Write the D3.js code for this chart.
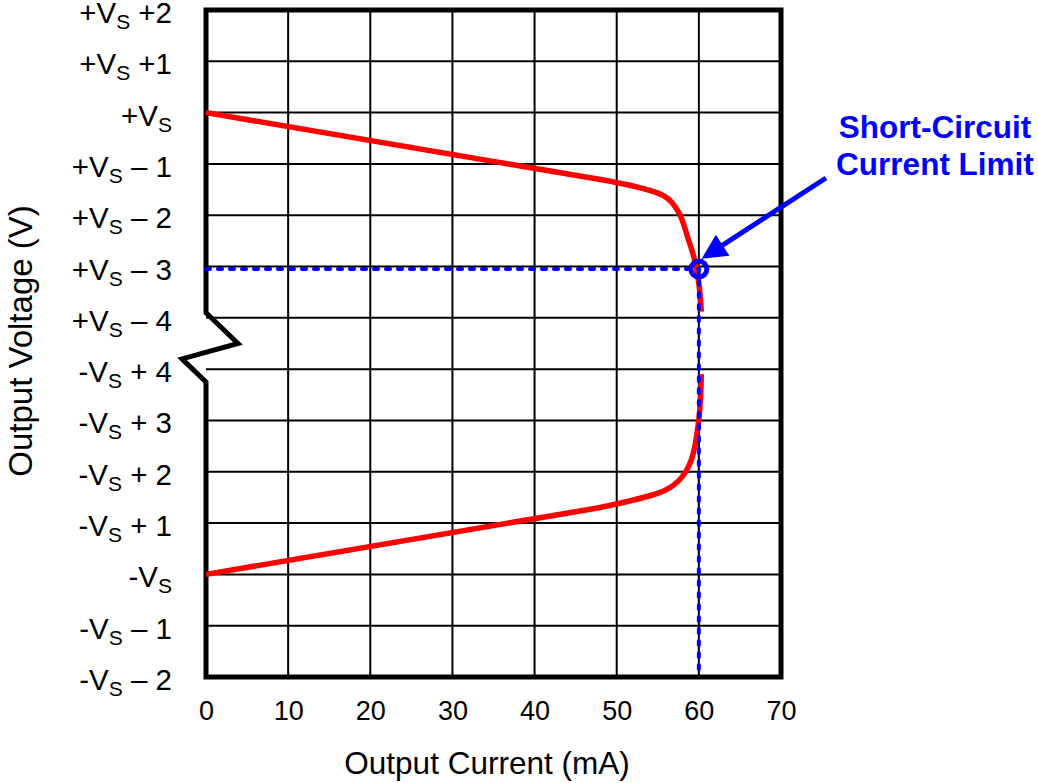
<!DOCTYPE html>
<html>
<head>
<meta charset="utf-8">
<script src="https://cdn.jsdelivr.net/npm/d3@7"></script>
<style>
  body { margin: 0; background: white; }
  svg { display: block; font-family: "Liberation Sans", Arial, sans-serif; }
</style>
</head>
<body>
<svg id="chart"></svg>
<script>
// x axis (mA)
var xTicks = [0, 10, 20, 30, 40, 50, 60, 70];

// y axis rows, top to bottom
var yRail   = ["+V", "+V", "+V", "+V", "+V", "+V", "+V", "-V", "-V", "-V", "-V", "-V", "-V", "-V"];
var yOffset = [" +2", " +1", "", " \u2013 1", " \u2013 2", " \u2013 3", " \u2013 4",
               " + 4", " + 3", " + 2", " + 1", "", " \u2013 1", " \u2013 2"];

// upper curve: output current (mA) vs volts below +Vs
var highCurrent = [0, 47.5, 55.7, 57.5, 58.7, 59.5, 60.0, 60.3];
var highVolts   = [0, -1.29, -1.62, -1.93, -2.46, -2.88, -3.33, -3.88];

// lower curve: output current (mA) vs volts above -Vs
var lowCurrent = [0, 47.5, 55.9, 57.9, 59.1, 60.0, 60.3];
var lowVolts   = [0, 1.29, 1.64, 1.89, 2.24, 3.02, 3.90];

// short-circuit limit marker
var limitCurrent = 60;
var limitVolts = -3.05;

var W = 1038, H = 783;
var highRow = 2, lowRow = 11, breakRow = 6;

var svg = d3.select("#chart").attr("width", W).attr("height", H);

var x = d3.scaleLinear().domain([0, 70]).range([206, 781]);
var y = d3.scaleLinear().domain([0, 13]).range([10, 677]);

// grid
svg.append("g")
  .selectAll("line")
  .data(xTicks.slice(1, -1))
  .enter().append("line")
  .attr("x1", function(d) { return x(d); })
  .attr("x2", function(d) { return x(d); })
  .attr("y1", y(0)).attr("y2", y(13))
  .attr("stroke", "black").attr("stroke-width", 2);

svg.append("g")
  .selectAll("line")
  .data(d3.range(1, 13))
  .enter().append("line")
  .attr("x1", x(0)).attr("x2", x(70))
  .attr("y1", function(d) { return y(d); })
  .attr("y2", function(d) { return y(d); })
  .attr("stroke", "black").attr("stroke-width", 2);

// frame with the axis break on the left side
var frame = d3.path();
frame.moveTo(x(0), y(breakRow - 0.1));
frame.lineTo(x(0), y(0));
frame.lineTo(x(70), y(0));
frame.lineTo(x(70), y(13));
frame.lineTo(x(0), y(13));
frame.lineTo(x(0), y(breakRow + 1.25));
frame.lineTo(x(0) - 24, y(breakRow + 0.8));
frame.lineTo(x(0) + 32, y(breakRow + 0.5));
frame.closePath();

svg.append("path")
  .attr("d", frame.toString())
  .attr("fill", "none")
  .attr("stroke", "black")
  .attr("stroke-width", 5)
  .attr("stroke-linejoin", "miter");

// curves: straight part first, then the rounded knee
var straight = d3.line()
  .x(function(d) { return x(d[0]); })
  .y(function(d) { return y(d[1]); });
var knee = d3.line()
  .x(function(d) { return x(d[0]); })
  .y(function(d) { return y(d[1]); })
  .curve(d3.curveCatmullRom.alpha(0.5));

var highPts = highCurrent.map(function(c, i) { return [c, highRow - highVolts[i]]; });
var lowPts = lowCurrent.map(function(c, i) { return [c, lowRow - lowVolts[i]]; });

[highPts, lowPts].forEach(function(pts) {
  var d = straight(pts.slice(0, 2)) + knee(pts.slice(1)).replace(/^M[^LC]*/, "");
  svg.append("path")
    .attr("d", d)
    .attr("fill", "none")
    .attr("stroke", "#ff0000")
    .attr("stroke-width", 5.5)
    .attr("stroke-linejoin", "round");
});

// dashed guides to the limit point
var lx = x(limitCurrent), ly = y(highRow - limitVolts);
svg.append("line")
  .attr("x1", x(0)).attr("x2", lx)
  .attr("y1", ly).attr("y2", ly)
  .attr("stroke", "#0000ff").attr("stroke-width", 4)
  .attr("stroke-dasharray", "4,8").attr("stroke-linecap", "round");
svg.append("line")
  .attr("x1", lx).attr("x2", lx)
  .attr("y1", ly).attr("y2", y(13))
  .attr("stroke", "#0000ff").attr("stroke-width", 4)
  .attr("stroke-dasharray", "4,8").attr("stroke-linecap", "round");

svg.append("circle")
  .attr("cx", lx).attr("cy", ly).attr("r", 8)
  .attr("fill", "none")
  .attr("stroke", "#0000ff").attr("stroke-width", 5);

// annotation arrow
svg.append("defs").append("marker")
  .attr("id", "head")
  .attr("viewBox", "0 0 10 10")
  .attr("refX", 8).attr("refY", 5)
  .attr("markerWidth", 5.5).attr("markerHeight", 5)
  .attr("markerUnits", "strokeWidth")
  .attr("orient", "auto")
  .append("path").attr("d", "M0,0 L10,5 L0,10 Z").attr("fill", "#0000ff");

svg.append("line")
  .attr("x1", 826).attr("y1", 178)
  .attr("x2", lx + 7).attr("y2", ly - 13)
  .attr("stroke", "#0000ff").attr("stroke-width", 5)
  .attr("marker-end", "url(#head)");

var note = svg.append("text")
  .attr("text-anchor", "middle")
  .attr("font-size", 31.5).attr("font-weight", "bold")
  .attr("fill", "#0000ff");
note.append("tspan").attr("x", 935).attr("y", 138).text("Short-Circuit");
note.append("tspan").attr("x", 935).attr("y", 175).text("Current Limit");

// x tick labels
var xAxis = svg.append("g")
  .attr("transform", "translate(0," + y(13) + ")")
  .call(d3.axisBottom(x).tickValues(xTicks).tickSize(0).tickPadding(24));
xAxis.select(".domain").remove();
xAxis.selectAll("text")
  .attr("font-size", 27)
  .attr("font-family", "Liberation Sans, Arial, sans-serif")
  .attr("fill", "black");

// y tick labels with subscript S
var yLab = svg.append("g")
  .selectAll("text")
  .data(d3.range(14))
  .enter().append("text")
  .attr("x", 172)
  .attr("y", function(d) { return y(d) + 13; })
  .attr("text-anchor", "end")
  .attr("font-size", 29.5)
  .attr("fill", "black");
yLab.append("tspan").text(function(d) { return yRail[d]; });
yLab.append("tspan").attr("font-size", 21).attr("dy", 6).text("S");
yLab.append("tspan").attr("dy", -6).text(function(d) { return yOffset[d]; });

// axis titles
svg.append("text")
  .attr("x", 487).attr("y", 774)
  .attr("text-anchor", "middle")
  .attr("font-size", 31.5)
  .text("Output Current (mA)");

svg.append("text")
  .attr("transform", "translate(32,341) rotate(-90)")
  .attr("text-anchor", "middle")
  .attr("font-size", 33)
  .text("Output Voltage (V)");
</script>
</body>
</html>
